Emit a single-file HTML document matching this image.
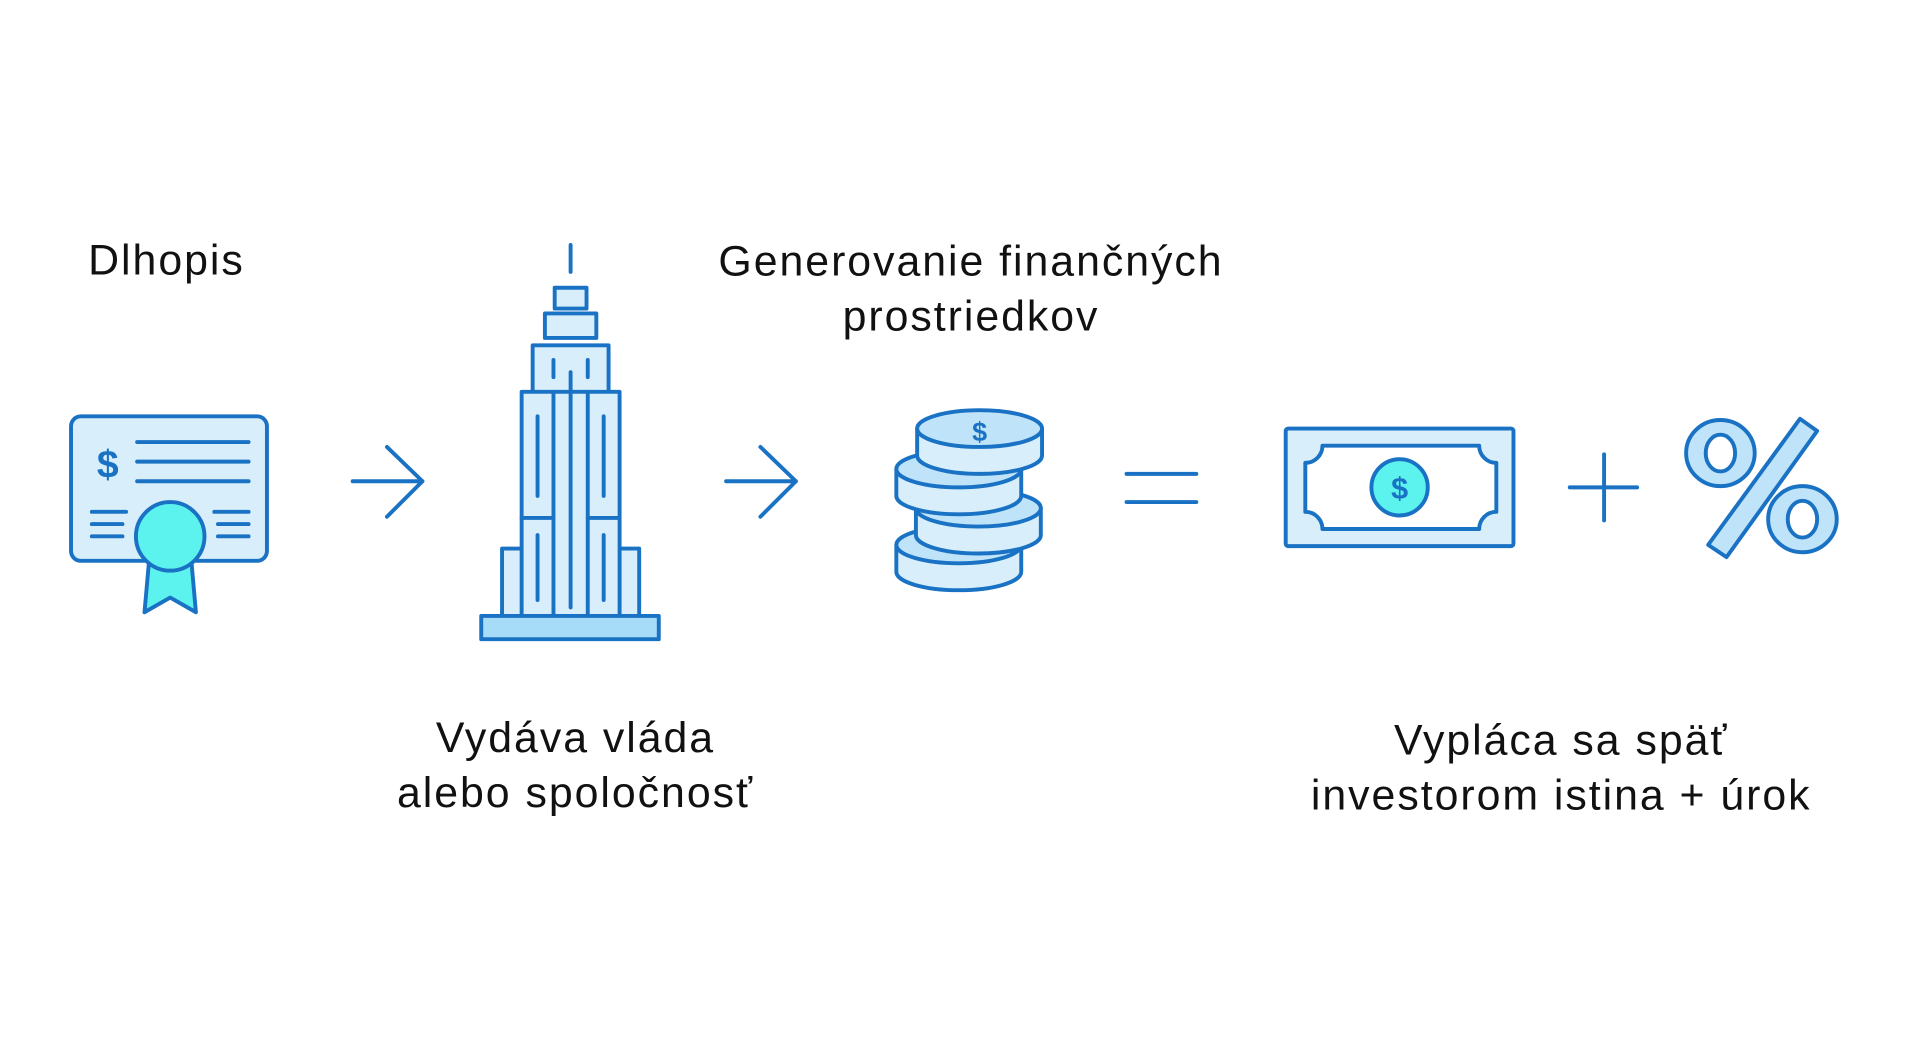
<!DOCTYPE html>
<html><head><meta charset="utf-8"><style>
html,body{margin:0;padding:0;background:#fff;width:1920px;height:1057px;overflow:hidden}
svg{display:block}
text{font-family:"Liberation Sans",sans-serif;fill:#111;font-size:35px;letter-spacing:1.6px}
</style></head><body>
<svg width="1920" height="1057" viewBox="0 0 1568 863.2" preserveAspectRatio="none">
<g fill="none" stroke="#1a72c4" stroke-width="3.2" stroke-linecap="round" stroke-linejoin="round">
<rect x="58" y="340" width="160" height="118" rx="8" fill="#d8effb"/>
<line x1="112" y1="361" x2="203" y2="361"/><line x1="112" y1="377" x2="203" y2="377"/><line x1="112" y1="393" x2="203" y2="393"/>
<line x1="75" y1="418" x2="103" y2="418"/><line x1="75" y1="428" x2="100" y2="428"/><line x1="75" y1="438" x2="100" y2="438"/>
<line x1="175" y1="418" x2="203" y2="418"/><line x1="178" y1="428" x2="203" y2="428"/><line x1="178" y1="438" x2="203" y2="438"/>
<path d="M122 455 L118 500 L139 488 L160 500 L156 455" fill="#5cf3ef"/>
<ellipse cx="139" cy="438" rx="28" ry="28" fill="#5cf3ef"/>
<path d="M288 393 H345 M316 365 L345 393 L316 422"/>
<path d="M593 393 H650 M621 365 L650 393 L621 422"/>
<line x1="466" y1="200" x2="466" y2="222"/>
<rect x="453" y="235" width="26" height="17" fill="#d8effb"/>
<rect x="445" y="256" width="42" height="20" fill="#d8effb"/>
<rect x="435" y="282" width="62" height="40" fill="#d8effb"/>
<rect x="410" y="448" width="112" height="55" fill="#d8effb"/>
<rect x="426" y="320" width="80" height="183" fill="#d8effb"/>
<line x1="452" y1="320" x2="452" y2="503"/><line x1="480" y1="320" x2="480" y2="503"/>
<line x1="426" y1="423" x2="452" y2="423"/><line x1="480" y1="423" x2="506" y2="423"/>
<line x1="466" y1="304" x2="466" y2="496"/>
<line x1="439" y1="340" x2="439" y2="405"/><line x1="493" y1="340" x2="493" y2="405"/>
<line x1="439" y1="437" x2="439" y2="490"/><line x1="493" y1="437" x2="493" y2="490"/>
<line x1="452" y1="294" x2="452" y2="308"/><line x1="480" y1="294" x2="480" y2="308"/>
<rect x="393" y="503" width="145" height="19" fill="#a6dcf7"/>
<g fill="#d8effb">
<path d="M732 445 v22 a51 15 0 0 0 102 0 v-22"/><ellipse cx="783" cy="445" rx="51" ry="15" fill="#bfe3f8"/>
<path d="M748 415 v22 a51 15 0 0 0 102 0 v-22"/><ellipse cx="799" cy="415" rx="51" ry="15" fill="#bfe3f8"/>
<path d="M732 383 v22 a51 15 0 0 0 102 0 v-22"/><ellipse cx="783" cy="383" rx="51" ry="15" fill="#bfe3f8"/>
<path d="M749 350 v22 a51 15 0 0 0 102 0 v-22"/><ellipse cx="800" cy="350" rx="51" ry="15" fill="#bfe3f8"/>
</g>
<line x1="920" y1="387" x2="977" y2="387"/><line x1="920" y1="410" x2="977" y2="410"/>
<rect x="1050" y="350" width="186" height="96" rx="2" fill="#d8effb"/>
<path d="M1080 364 H1208 A14 14 0 0 0 1222 378 V418 A14 14 0 0 0 1208 432 H1080 A14 14 0 0 0 1066 418 V378 A14 14 0 0 0 1080 364 Z" fill="#fff"/>
<circle cx="1143" cy="398" r="23" fill="#5cf3ef"/>
<line x1="1282" y1="398" x2="1337" y2="398"/><line x1="1310" y1="371" x2="1310" y2="425"/>
<g fill="#bfe3f8">
<ellipse cx="1405" cy="370" rx="28" ry="27"/><ellipse cx="1472" cy="424" rx="28" ry="27"/>
<polygon points="1470,342 1484,352 1410,455 1395,445"/>
</g>
<g fill="#fff"><ellipse cx="1405" cy="370" rx="12" ry="15"/><ellipse cx="1472" cy="424" rx="12" ry="15"/></g>
</g>
<text x="88" y="390" text-anchor="middle" style="fill:#1a72c4;font-size:32px;font-weight:bold;letter-spacing:0">$</text>
<text x="800" y="360" text-anchor="middle" style="fill:#1a72c4;font-size:22px;font-weight:bold;letter-spacing:0">$</text>
<text x="1143" y="407" text-anchor="middle" style="fill:#1a72c4;font-size:25px;font-weight:bold;letter-spacing:0">$</text>
<text x="72" y="224">Dlhopis</text>
<text x="793" y="225" text-anchor="middle">Generovanie finančných</text>
<text x="793" y="270" text-anchor="middle">prostriedkov</text>
<text x="470" y="614" text-anchor="middle">Vydáva vláda</text>
<text x="470" y="659" text-anchor="middle">alebo spoločnosť</text>
<text x="1275" y="616" text-anchor="middle">Vypláca sa späť</text>
<text x="1275" y="661" text-anchor="middle">investorom istina + úrok</text>
</svg>
</body></html>
